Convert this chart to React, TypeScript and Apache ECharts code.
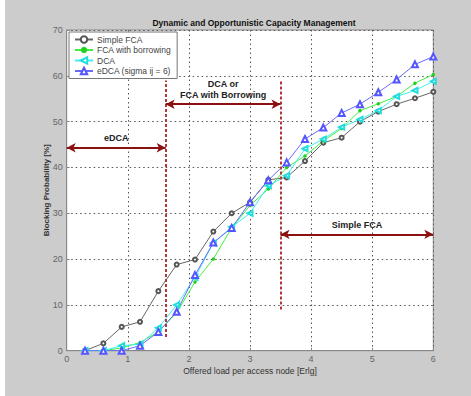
import React, { useEffect, useRef } from "react";
import * as echarts from "echarts";

const loads = [0.3, 0.6, 0.9, 1.2, 1.5, 1.8, 2.1, 2.4, 2.7, 3.0, 3.3, 3.6, 3.9, 4.2, 4.5, 4.8, 5.1, 5.4, 5.7, 6.0];
const simpleFCA = [0, 1.6, 5.2, 6.3, 13.0, 18.8, 19.9, 26.0, 30.0, 32.4, 37.3, 37.8, 41.4, 45.4, 46.5, 50.0, 52.2, 53.8, 55.1, 56.5];
const fcaBorrowing = [0, 0, 0.6, 1.8, 4.1, 8.3, 15.0, 20.0, 26.8, 31.7, 35.3, 40.0, 42.5, 45.8, 48.5, 52.4, 53.9, 55.5, 58.4, 60.3];
const dca = [0, 0, 1.1, 1.4, 5.0, 10.0, 16.0, 23.5, 27.0, 30.0, 36.0, 38.2, 44.1, 46.2, 48.8, 50.5, 52.4, 55.5, 56.8, 58.8];
const edca = [0, 0, 0, 1.1, 4.1, 8.5, 16.5, 23.6, 26.8, 32.4, 37.2, 41.1, 46.2, 48.7, 51.9, 53.8, 56.4, 59.2, 62.5, 64.2];

const seriesNames = ["Simple FCA", "FCA with borrowing", "DCA", "eDCA (sigma ij = 6)"];

// region boundaries: [x, yFrom, yTo]
const boundaries = [
  [1.62, 3, 59],
  [3.5, 9, 59],
];
// region arrows: [xFrom, xTo, y, label]
const regionArrows: [number, number, number, string][] = [
  [0, 1.62, 44.3, "eDCA"],
  [1.62, 3.5, 53.8, "DCA or\nFCA with Borrowing"],
  [3.5, 6, 25.4, "Simple FCA"],
];

const FONT = "Liberation Sans, Arial, sans-serif";

export default function App() {
  const ref = useRef<HTMLDivElement>(null);
  useEffect(() => {
    if (!ref.current) return;
    const chart = echarts.init(ref.current, undefined, { renderer: "svg" });
    const pairs = (vals: number[]) => loads.map((x, i) => [x, vals[i]]);
    const markLineData: any[] = [];
    boundaries.forEach(([x, y0, y1]) => {
      markLineData.push([
        {
          coord: [x, y0],
          symbol: "none",
          lineStyle: { color: "#b03a3a", type: [3, 2], width: 2 },
          label: { show: false },
        },
        { coord: [x, y1], symbol: "none" },
      ]);
    });
    regionArrows.forEach(([x0, x1, y, text]) => {
      markLineData.push([
        {
          coord: [x0, y],
          symbol: "arrow",
          symbolSize: [7, 9],
          lineStyle: { color: "#8b1010", type: "solid", width: 2 },
          label: {
            show: true,
            formatter: text,
            position: "insideMiddleTop",
            distance: 4,
            color: "#222",
            fontFamily: FONT,
            fontWeight: "bold",
            fontSize: 9,
            lineHeight: 11,
            align: "center",
          },
        },
        { coord: [x1, y], symbol: "arrow", symbolSize: [7, 9] },
      ]);
    });

    const lineBase = {
      type: "line",
      lineStyle: { width: 1 },
      emphasis: { disabled: true },
    };

    chart.setOption({
      animation: false,
      backgroundColor: "transparent",
      title: {
        text: "Dynamic and Opportunistic Capacity Management",
        left: 249,
        textAlign: "center",
        top: 13,
        textStyle: { fontFamily: FONT, fontWeight: "bold", fontSize: 8.5, color: "#111" },
      },
      legend: {
        data: seriesNames,
        orient: "vertical",
        left: 69,
        top: 32,
        backgroundColor: "#fff",
        borderColor: "#777",
        borderWidth: 1,
        padding: [3, 6, 3, 5],
        itemGap: 1.5,
        itemWidth: 18,
        itemHeight: 8,
        textStyle: { fontFamily: FONT, fontSize: 8.5, color: "#444", padding: [0, 0, 0, -1] },
      },
      grid: {
        left: 66.7,
        top: 30,
        right: 37.7,
        bottom: 45.3,
        show: true,
        backgroundColor: "#fff",
        borderColor: "#888",
        borderWidth: 1,
      },
      xAxis: {
        type: "value",
        min: 0,
        max: 6,
        interval: 1,
        name: "Offered load per access node [Erlg]",
        nameLocation: "middle",
        nameGap: 16,
        nameMoveOverlap: false,
        nameTextStyle: { fontFamily: FONT, fontSize: 8.5, color: "#333" },
        axisLine: { show: true, lineStyle: { color: "#888" } },
        axisTick: { show: true, inside: true, length: 3, lineStyle: { color: "#888" } },
        axisLabel: { fontFamily: FONT, fontSize: 9, color: "#666", margin: 4 },
        splitLine: { show: true, lineStyle: { color: "#555", type: [1.5, 3], width: 1 } },
      },
      yAxis: {
        type: "value",
        min: 0,
        max: 70,
        interval: 10,
        name: "Blocking Probability [%]",
        nameLocation: "middle",
        nameGap: 16,
        nameMoveOverlap: false,
        nameTextStyle: { fontFamily: FONT, fontSize: 8, fontWeight: "bold", color: "#333" },
        axisLine: { show: true, lineStyle: { color: "#888" } },
        axisTick: { show: true, inside: true, length: 3, lineStyle: { color: "#888" } },
        axisLabel: { fontFamily: FONT, fontSize: 9, color: "#666", margin: 4 },
        splitLine: { show: true, lineStyle: { color: "#555", type: [1.5, 3], width: 1 } },
      },
      series: [
        {
          ...lineBase,
          name: seriesNames[0],
          data: pairs(simpleFCA),
          color: "#555",
          symbol: "emptyCircle",
          symbolSize: 4,
          itemStyle: { color: "#555", borderWidth: 1.2 },
          lineStyle: { width: 1, color: "#666" },
          markLine: { silent: true, animation: false, data: markLineData },
        },
        {
          ...lineBase,
          name: seriesNames[1],
          data: pairs(fcaBorrowing),
          color: "#22e022",
          symbol: "circle",
          symbolSize: 3.5,
          itemStyle: { color: "#22d022" },
          lineStyle: { width: 1, color: "#40f040" },
        },
        {
          ...lineBase,
          name: seriesNames[2],
          data: pairs(dca),
          color: "#22dddd",
          symbol: "emptyTriangle",
          symbolRotate: 90,
          symbolSize: 5,
          itemStyle: { color: "#22dddd", borderWidth: 1 },
          lineStyle: { width: 1, color: "#40eeee" },
        },
        {
          ...lineBase,
          name: seriesNames[3],
          data: pairs(edca),
          color: "#5555ff",
          symbol: "emptyTriangle",
          symbolSize: 6,
          itemStyle: { color: "#5555ff", borderWidth: 1 },
          lineStyle: { width: 1, color: "#6a6aff" },
        },
      ],
    });
    return () => chart.dispose();
  }, []);

  return (
    <div style={{ position: "absolute", left: 0, top: 0, width: 471, height: 396, background: "#fff" }}>
      <div style={{ position: "absolute", left: 5, top: 0, width: 466, height: 396, background: "#cccccc" }} />
      <div ref={ref} style={{ position: "absolute", left: 0, top: 0, width: 471, height: 396 }} />
    </div>
  );
}
